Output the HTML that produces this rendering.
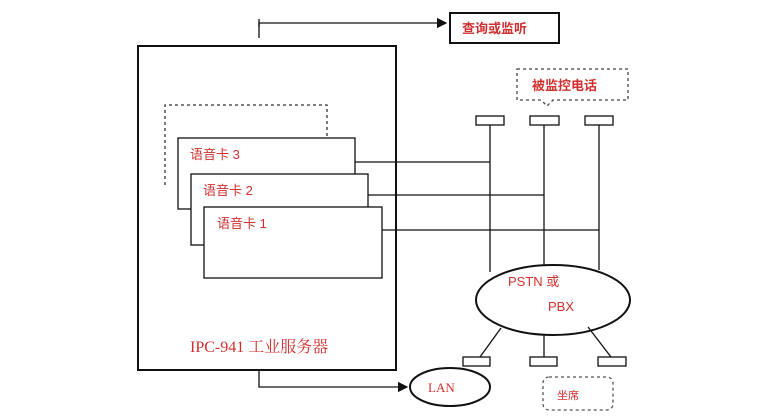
<!DOCTYPE html>
<html><head><meta charset="utf-8"><style>body{margin:0;background:#fff}svg{display:block}</style></head><body>
<svg width="768" height="420" viewBox="0 0 768 420" xmlns="http://www.w3.org/2000/svg">
<defs><marker id="a" markerWidth="8" markerHeight="8" refX="7" refY="4" orient="auto"><path d="M0,0 L8,4 L0,8z" fill="#111"/></marker></defs>
<g fill="none" stroke="#111" stroke-width="1.3">
<path d="M259,38 V23 H446" marker-end="url(#a)"/>
<line x1="259" y1="19" x2="259" y2="27"/>
<rect x="450" y="13" width="109" height="30" stroke-width="2"/>
<rect x="138" y="46" width="258" height="324" stroke-width="2"/>
<path d="M165,185 V105 H327 V137" stroke-dasharray="3,3" stroke="#333"/>
<rect x="178" y="138" width="177" height="71" fill="#fff"/>
<rect x="191" y="174" width="177" height="71" fill="#fff"/>
<rect x="204" y="207" width="178" height="71" fill="#fff"/>
<line x1="355" y1="162" x2="490" y2="162"/>
<line x1="368" y1="195" x2="544" y2="195"/>
<line x1="382" y1="230" x2="599" y2="230"/>
<rect x="476" y="116" width="28" height="9"/>
<rect x="530" y="116" width="29" height="9"/>
<rect x="585" y="116" width="28" height="9"/>
<line x1="490" y1="125" x2="490" y2="272"/>
<line x1="544" y1="125" x2="544" y2="266"/>
<line x1="599" y1="125" x2="599" y2="270"/>
<path d="M517,69 H628 V100 H553 L547,106 L541,100 H517 Z" stroke-dasharray="3,3" stroke="#444"/>
<ellipse cx="553" cy="300" rx="77" ry="35" stroke-width="2" fill="#fff"/>
<line x1="501" y1="328" x2="480" y2="357"/>
<line x1="544" y1="335" x2="544" y2="357"/>
<line x1="588" y1="327" x2="611" y2="357"/>
<rect x="463" y="357" width="27" height="9"/>
<rect x="530" y="357" width="27" height="9"/>
<rect x="598" y="357" width="28" height="9"/>
<path d="M259,370 V387 H407" marker-end="url(#a)"/>
<ellipse cx="450" cy="387" rx="40" ry="19" stroke-width="2" fill="#fff"/>
<rect x="543" y="377" width="70" height="33" rx="6" stroke-dasharray="3,3" stroke="#555"/>
</g>
<g fill="#d03030" font-family="Liberation Sans, Noto Sans CJK SC, sans-serif" font-size="13" font-weight="bold">
<text x="462" y="33">查询或监听</text>
<text x="532" y="90">被监控电话</text>
<text x="190" y="159" font-weight="normal">语音卡 3</text>
<text x="203" y="195" font-weight="normal">语音卡 2</text>
<text x="217" y="228" font-weight="normal">语音卡 1</text>
<text x="508" y="286" font-weight="normal">PSTN 或</text>
<text x="548" y="311" font-weight="normal">PBX</text>
<text x="428" y="392" font-weight="normal" font-family="Liberation Serif, serif">LAN</text>
<text x="557" y="399" font-weight="normal" font-size="11">坐席</text>
<text x="190" y="352" font-weight="normal" font-size="16" font-family="Liberation Serif, Noto Serif CJK SC, serif">IPC-941 工业服务器</text>
</g>
</svg>
</body></html>
